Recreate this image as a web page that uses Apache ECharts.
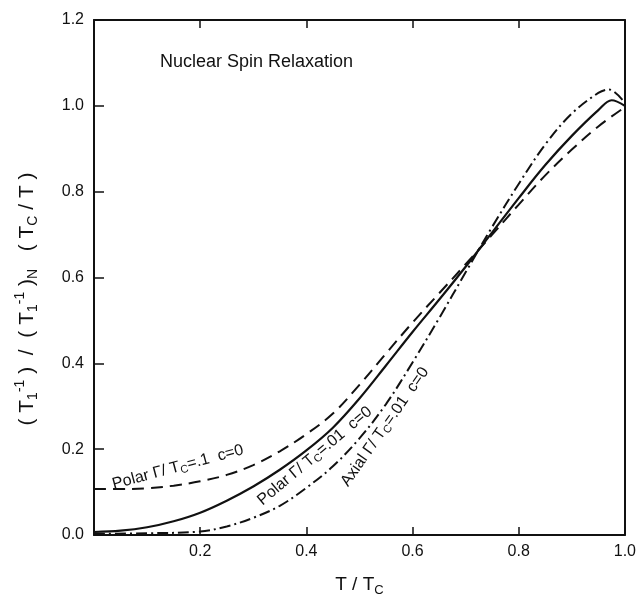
<!DOCTYPE html>
<html>
<head>
<meta charset="utf-8">
<script src="https://cdn.jsdelivr.net/npm/echarts@6/dist/echarts.min.js"></script>
<style>html,body{margin:0;padding:0;background:#fff}#c{width:639px;height:596px}</style>
</head>
<body>
<div id="c"></div>
<script>
// ---- data ----
const xTicks = [0, 0.2, 0.4, 0.6, 0.8, 1.0];
const yTicks = [0, 0.2, 0.4, 0.6, 0.8, 1.0, 1.2];

const xDashed = [0,0.05,0.1,0.15,0.2,0.25,0.3,0.35,0.4,0.45,0.5,0.55,0.6,0.65,0.7,0.75,0.8,0.85,0.9,0.95,1.0];
const yDashed = [0.107,0.107,0.109,0.115,0.125,0.140,0.163,0.195,0.235,0.283,0.350,0.423,0.495,0.563,0.631,0.700,0.770,0.838,0.898,0.952,0.997];

const xSolid = [0,0.05,0.1,0.15,0.2,0.25,0.3,0.35,0.4,0.45,0.5,0.55,0.6,0.65,0.7,0.75,0.8,0.85,0.9,0.95,0.975,1.0];
const ySolid = [0.007,0.010,0.018,0.032,0.052,0.080,0.113,0.152,0.197,0.250,0.318,0.395,0.473,0.548,0.625,0.705,0.785,0.862,0.930,0.990,1.013,1.000];

const xDashDot = [0,0.1,0.2,0.25,0.3,0.35,0.4,0.45,0.5,0.55,0.6,0.65,0.7,0.75,0.8,0.85,0.9,0.95,0.97,1.0];
const yDashDot = [0.003,0.004,0.008,0.020,0.040,0.068,0.110,0.160,0.225,0.305,0.402,0.505,0.612,0.718,0.818,0.910,0.982,1.030,1.038,1.007];

const seriesNames = ['Polar Γ/Tc=.1 c=0', 'Polar Γ/Tc=.01 c=0', 'Axial Γ/Tc=.01 c=0'];
// curve labels: [text, anchor x, anchor y (data units), angle in degrees]
const curveLabels = [
  ['Polar Γ/ T{s|C}=.1  c=0', 0.158, 0.158, 15],
  ['Polar Γ/ T{s|C}=.01  c=0', 0.416, 0.184, 40],
  ['Axial Γ/ T{s|C}=.01  c=0', 0.548, 0.252, 55]
];
const chartTitle = 'Nuclear Spin Relaxation';

const zip = (xs, ys) => xs.map((x, i) => [x, ys[i]]);
const FONT = '"Liberation Sans", Arial, sans-serif';

const chart = echarts.init(document.getElementById('c'), null, {renderer: 'canvas'});
const frameLine = {onZero: false, lineStyle: {color: '#111', width: 2}};
const option = {
  backgroundColor: '#fff',
  animation: false,
  title: {text: chartTitle, left: 160, top: 53, padding: 0,
    textStyle: {fontFamily: FONT, fontSize: 18, fontWeight: 'normal', color: '#111'}},
  grid: {left: 94, right: 13, top: 20, bottom: 61},
  xAxis: [{
    type: 'value', position: 'bottom', min: 0, max: 1, interval: 0.2,
    axisLine: frameLine,
    axisTick: {inside: true, length: 8, lineStyle: {color: '#111', width: 1.5}},
    axisLabel: {margin: 9, fontFamily: FONT, fontSize: 16, color: '#111',
      formatter: v => (v === 0 ? '' : v.toFixed(1))},
    splitLine: {show: false}
  }, {
    type: 'value', position: 'top', min: 0, max: 1, interval: 0.2,
    axisLine: frameLine,
    axisTick: {inside: true, length: 8, lineStyle: {color: '#111', width: 1.5}},
    axisLabel: {show: false}, splitLine: {show: false}
  }],
  yAxis: [{
    type: 'value', position: 'left', min: 0, max: 1.2, interval: 0.2,
    axisLine: Object.assign({show: true}, frameLine),
    axisTick: {inside: true, length: 10, lineStyle: {color: '#111', width: 1.5}},
    axisLabel: {margin: 10, fontFamily: FONT, fontSize: 16, color: '#111',
      formatter: v => v.toFixed(1)},
    splitLine: {show: false}
  }, {
    type: 'value', position: 'right', min: 0, max: 1.2, interval: 0.2,
    axisLine: Object.assign({show: true}, frameLine),
    axisTick: {show: false}, axisLabel: {show: false}, splitLine: {show: false}
  }],
  series: [
    {name: seriesNames[0], type: 'line', data: zip(xDashed, yDashed), smooth: 0.35, symbol: 'none',
      lineStyle: {color: '#111', width: 2, type: [12, 7]}},
    {name: seriesNames[1], type: 'line', data: zip(xSolid, ySolid), smooth: 0.35, symbol: 'none',
      lineStyle: {color: '#111', width: 2.2, type: 'solid'}},
    {name: seriesNames[2], type: 'line', data: zip(xDashDot, yDashDot), smooth: 0.35, symbol: 'none',
      lineStyle: {color: '#111', width: 2, type: [11, 4, 2, 4]}}
  ]
};
chart.setOption(option);

const g = [];
curveLabels.forEach(([txt, x, y, ang]) => {
  const p = chart.convertToPixel({gridIndex: 0}, [x, y]);
  g.push({type: 'text', x: p[0], y: p[1], rotation: ang * Math.PI / 180,
    style: {text: txt, fontFamily: FONT, fontSize: 16, fill: '#111', align: 'center', verticalAlign: 'middle',
      rich: {s: {fontSize: 11, fontFamily: FONT, fill: '#111', padding: [8, 0, 0, 0]}}}});
});
// y-axis title
const yMid = chart.convertToPixel({gridIndex: 0}, [0, 0.55]);
g.push({type: 'text', x: 27, y: yMid[1], rotation: Math.PI / 2,
  style: {text: '( T{b|1}{p|-1} )  /  ( T{b|1}{p|-1} ){b|N}   ( T{b|C} / T )', fontFamily: FONT, fontSize: 21, fill: '#111',
    align: 'center', verticalAlign: 'middle',
    rich: {b: {fontSize: 14, fontFamily: FONT, fill: '#111', padding: [13, 0, 0, 0]},
           p: {fontSize: 14, fontFamily: FONT, fill: '#111', padding: [0, 0, 13, 0]}}}});
// x-axis title
const xMid = chart.convertToPixel({gridIndex: 0}, [0.5, 0]);
g.push({type: 'text', x: xMid[0], y: 585,
  style: {text: 'T / T{b|C}', fontFamily: FONT, fontSize: 19, fill: '#111', align: 'center', verticalAlign: 'middle',
    rich: {b: {fontSize: 13, fontFamily: FONT, fill: '#111', padding: [10, 0, 0, 0]}}}});
chart.setOption({graphic: g});
</script>
</body>
</html>
